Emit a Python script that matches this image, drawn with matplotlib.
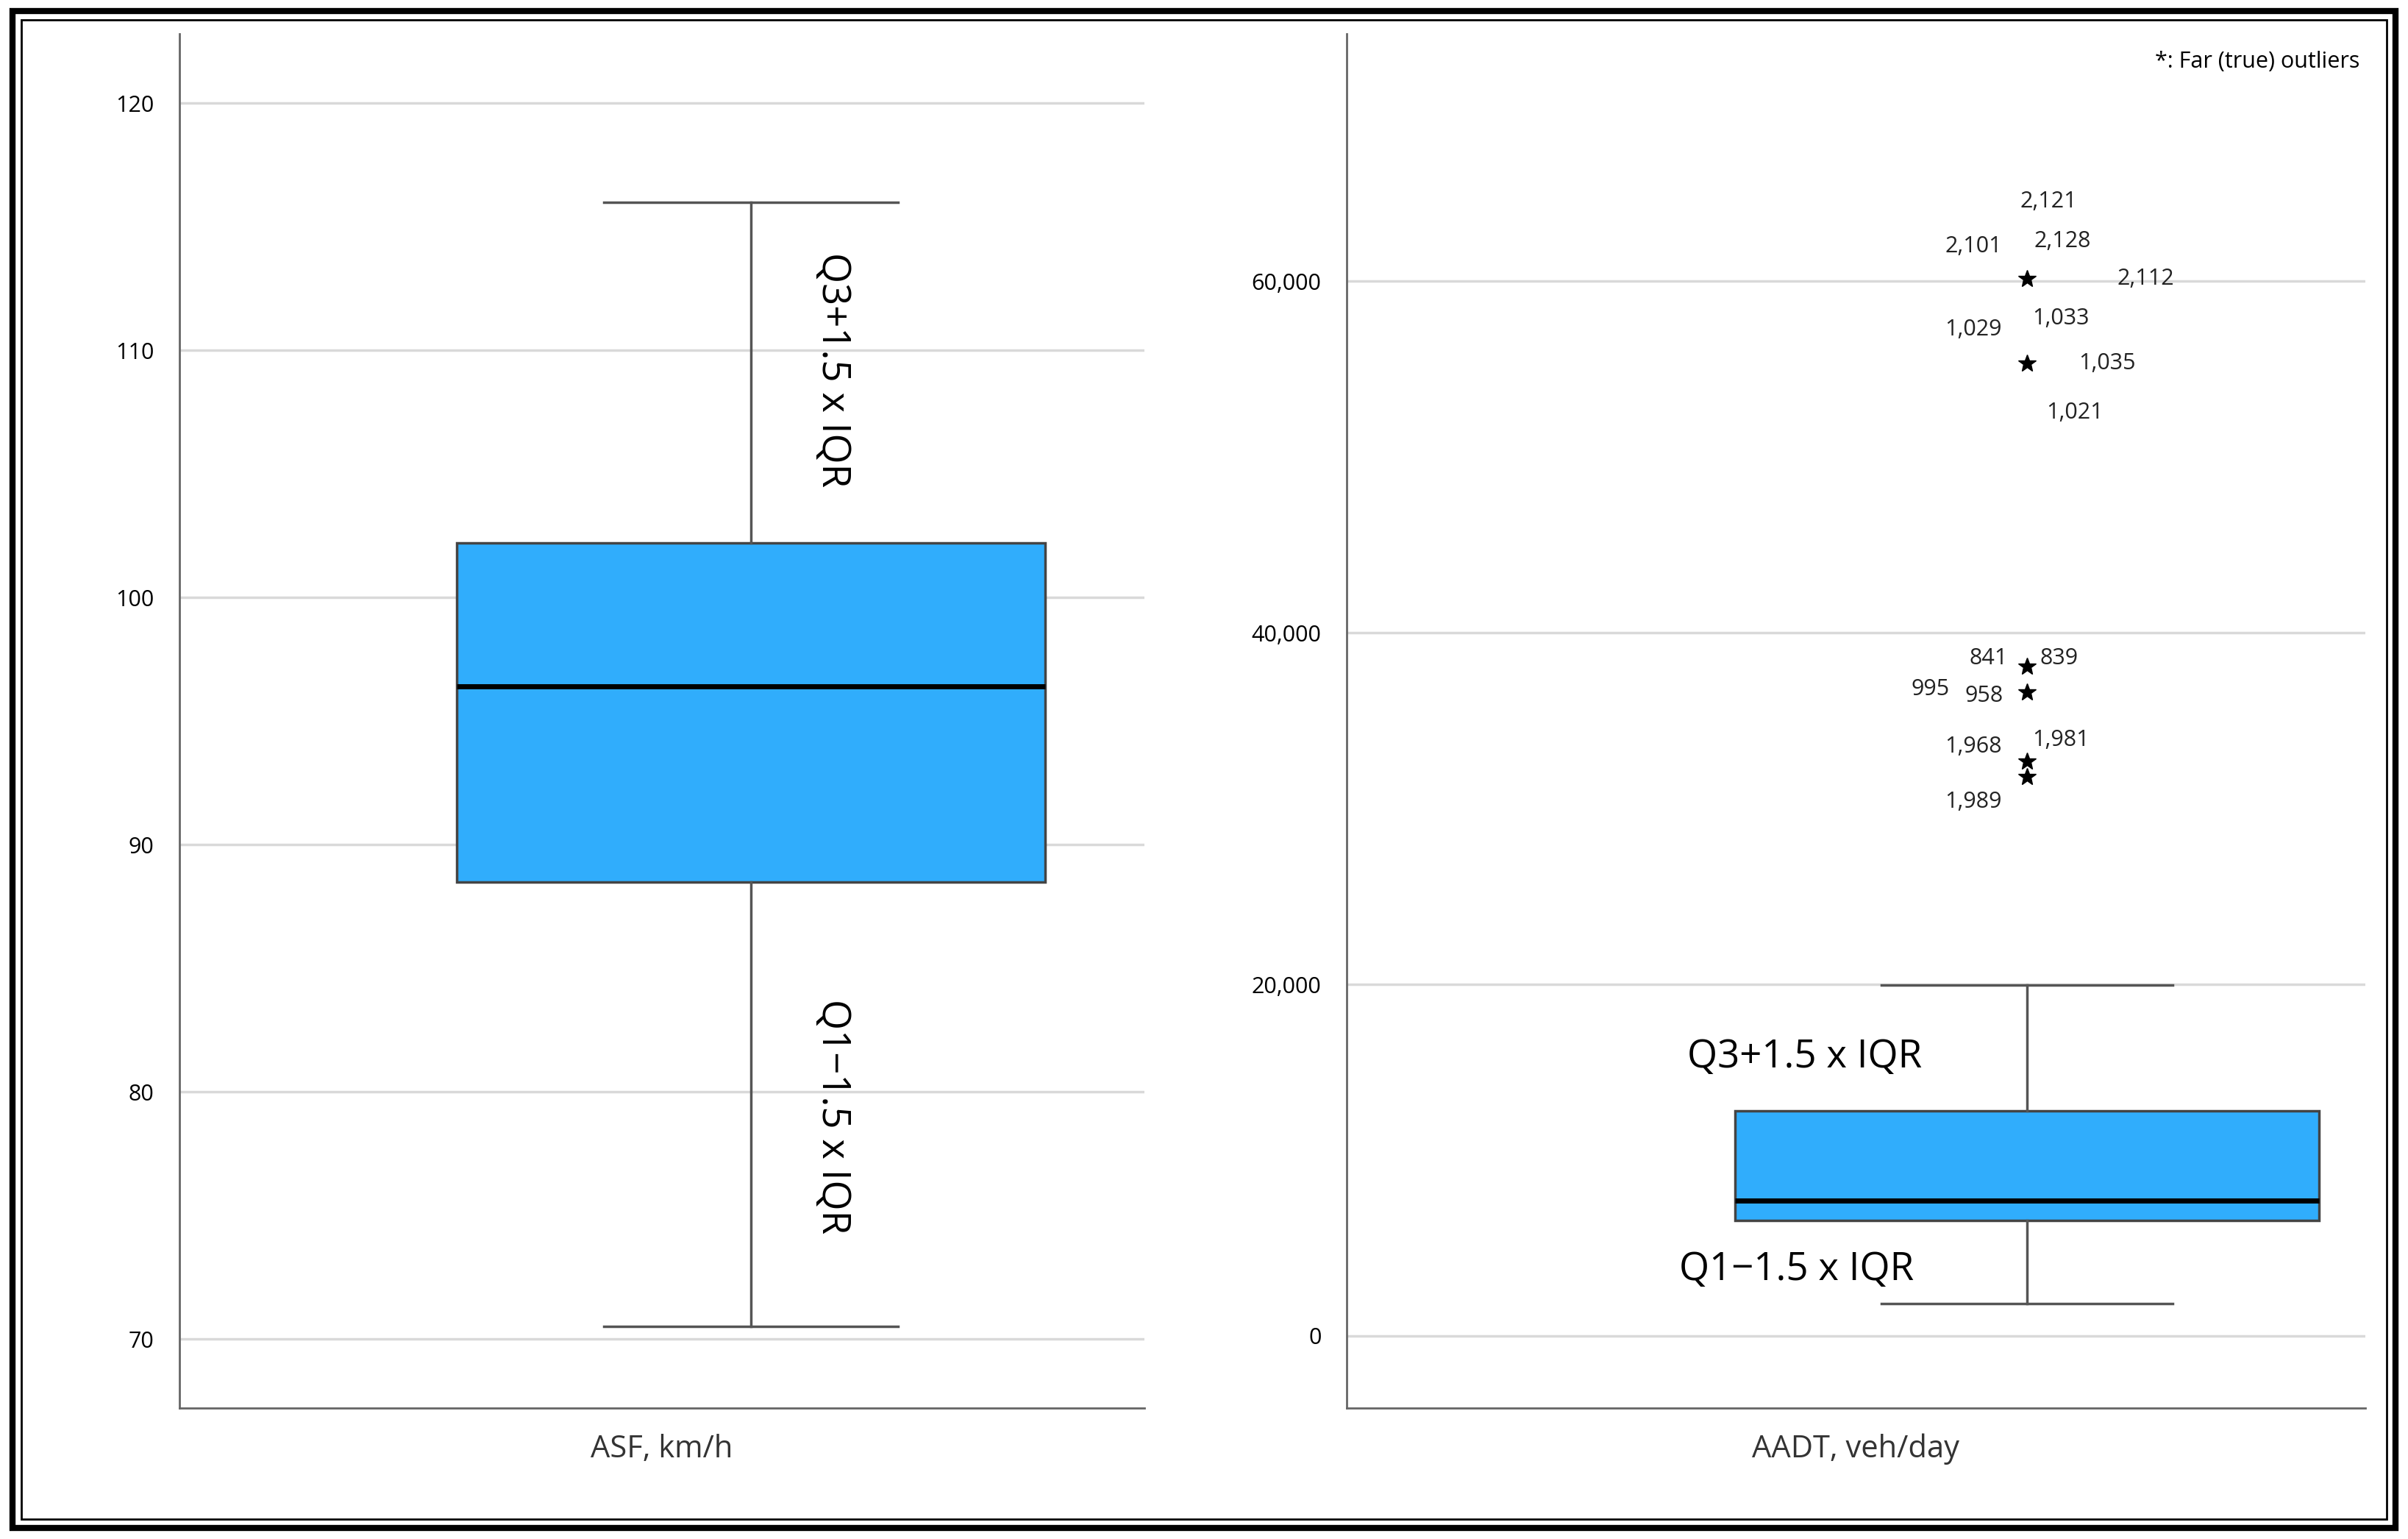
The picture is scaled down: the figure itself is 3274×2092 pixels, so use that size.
import matplotlib.pyplot as plt
from matplotlib.patches import Rectangle
from matplotlib.ticker import FuncFormatter

plt.rcParams['font.family'] = ['Open Sans', 'DejaVu Sans']

# ASF, km/h box statistics
asf_stats = dict(whislo=70.5, q1=88.5, med=96.4, q3=102.2, whishi=116.0, fliers=[])
# AADT, veh/day box statistics
aadt_stats = dict(whislo=1840, q1=6570, med=7700, q3=12790, whishi=19970,
                  fliers=[60160, 55340, 38100, 36600, 32670, 31790])

# outlier case labels: (label, x, y)
outlier_labels = ['2,121', '2,101', '2,128', '2,112', '1,029', '1,033', '1,035', '1,021',
                  '841', '839', '995', '958', '1,968', '1,981', '1,989']
outlier_px = [(1334, 131), (1285, 160), (1343, 157), (1397, 181), (1285, 214),
              (1342, 207), (1372, 236), (1351, 268), (1295, 428), (1341, 428),
              (1257, 448), (1292, 452), (1285, 485), (1342, 481), (1285, 521)]

fig = plt.figure(figsize=(32.74, 20.92), dpi=100)
W, H = 1568, 1000

box_kw = dict(patch_artist=True, showfliers=True,
              boxprops=dict(facecolor='#30adfc', edgecolor='#444444', linewidth=2.5),
              medianprops=dict(color='black', linewidth=5),
              whiskerprops=dict(color='#555555', linewidth=2.5),
              capprops=dict(color='#555555', linewidth=2.5),
              flierprops=dict(marker='*', markersize=18, markerfacecolor='black',
                              markeredgecolor='black'))


def style(ax):
    for s in ['top', 'right']:
        ax.spines[s].set_visible(False)
    for s in ['left', 'bottom']:
        ax.spines[s].set_color('#666666')
        ax.spines[s].set_linewidth(2)
    ax.yaxis.grid(True, color='#d9d9d9', linewidth=2.5)
    ax.set_axisbelow(True)
    ax.tick_params(length=0, labelsize=22, pad=25)
    ax.set_xticks([])


ax1 = fig.add_axes([117 / W, 1 - 915 / H, 628 / W, 893 / H])
ax1.bxp([asf_stats], positions=[1], widths=0.61, **box_kw)
ax1.set_xlim(0.408, 1.408)
ax1.set_ylim(67.2, 122.8)
ax1.set_yticks([70, 80, 90, 100, 110, 120])
style(ax1)
ax1.set_xlabel('ASF, km/h', fontsize=30, color='#333333', labelpad=25)
ax1.text(1.085, 109.2, 'Q3+1.5 x IQR', rotation=-90, fontsize=38, ha='center', va='center')
ax1.text(1.085, 79.0, 'Q1\u22121.5 x IQR', rotation=-90, fontsize=38, ha='center', va='center')

ax2 = fig.add_axes([877 / W, 1 - 915 / H, 663 / W, 893 / H])
ax2.bxp([aadt_stats], positions=[1], widths=0.573, **box_kw)
ax2.set_xlim(0.332, 1.332)
ax2.set_ylim(-4117, 74080)
ax2.set_yticks([0, 20000, 40000, 60000])
ax2.yaxis.set_major_formatter(FuncFormatter(lambda v, p: f'{int(v):,}'))
style(ax2)
ax2.set_xlabel('AADT, veh/day', fontsize=30, color='#333333', labelpad=25)
ax2.text(1.332 - 0.005, 72500, '*: Far (true) outliers', fontsize=22, ha='right', va='center')
ax2.text(0.332 + (1175 - 877) / 663, (868 - 687) / 11.42 * 1000, 'Q3+1.5 x IQR',
         fontsize=38, ha='center', va='center')
ax2.text(0.332 + (1170 - 877) / 663, (868 - 825) / 11.42 * 1000, 'Q1\u22121.5 x IQR',
         fontsize=38, ha='center', va='center')
for lab, (px, py) in zip(outlier_labels, outlier_px):
    ax2.text(0.332 + (px - 877) / 663, (868 - py) / 11.42 * 1000, lab,
             fontsize=22, ha='center', va='center', color='#222222')

fig.patches.append(Rectangle((8 / W, 7 / H), 1552 / W, 986 / H, transform=fig.transFigure,
                             fill=False, edgecolor='black', linewidth=6))
fig.patches.append(Rectangle((14 / W, 13 / H), 1540 / W, 974 / H, transform=fig.transFigure,
                             fill=False, edgecolor='black', linewidth=2))

fig.savefig('out.png', dpi=100)
